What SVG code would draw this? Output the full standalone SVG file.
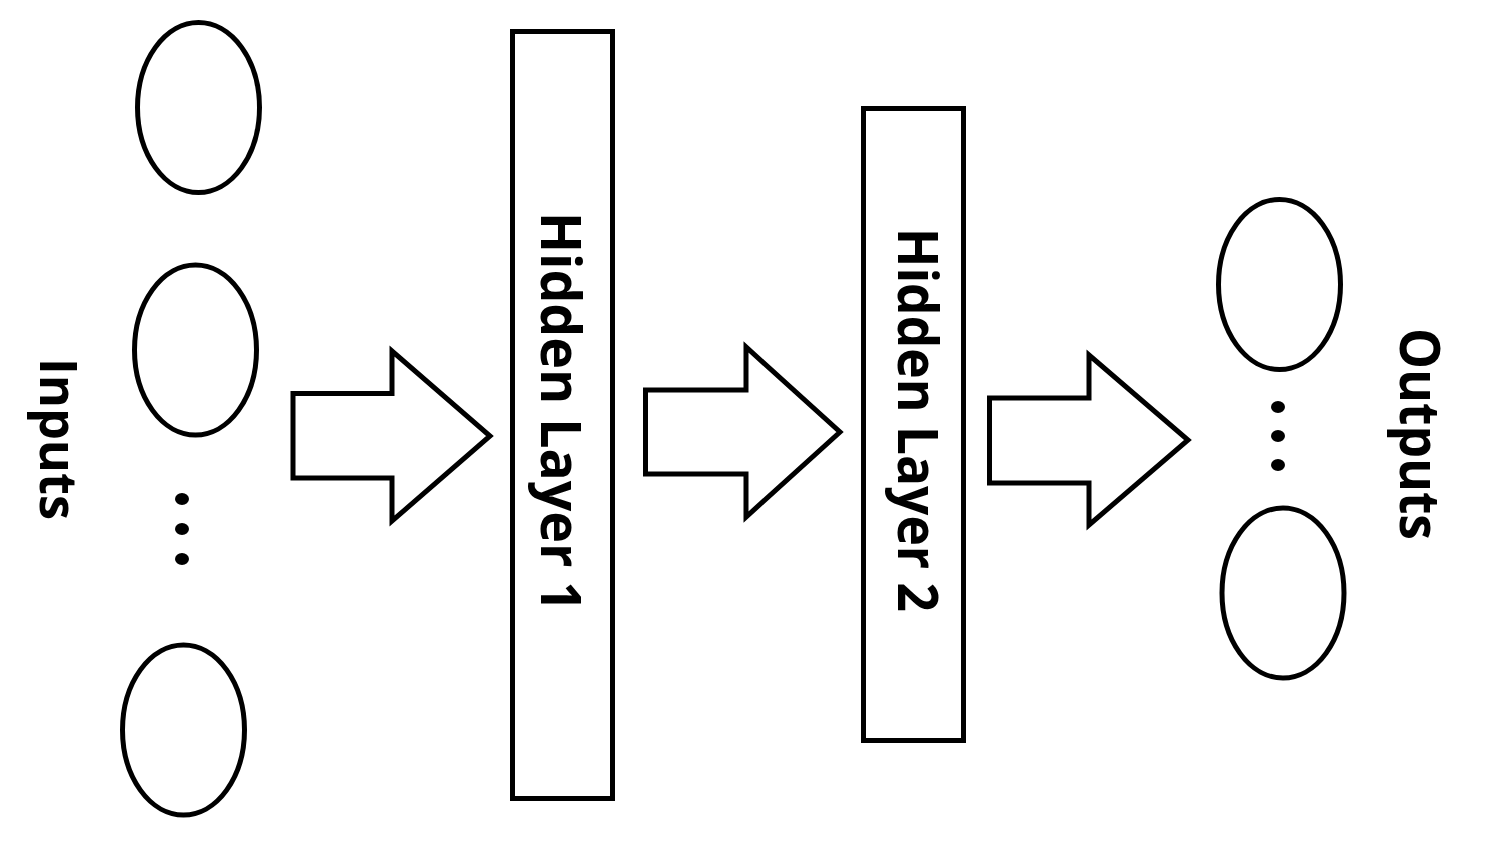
<svg xmlns="http://www.w3.org/2000/svg" width="1504" height="860" viewBox="0 0 1504 860">
  <style>
    .shape { fill: #ffffff; stroke: #000000; stroke-width: 5; stroke-linejoin: miter; }
    .dot { fill: #000000; }
    .label { font-family: "Open Sans", "Noto Sans", "Liberation Sans", sans-serif; font-weight: 700; fill: #000000; text-anchor: middle; }
  </style>
  <rect width="1504" height="860" fill="#ffffff"/>

  <!-- input neurons -->
  <g id="inputs">
    <ellipse class="shape" cx="198.5" cy="107.5" rx="61" ry="85"/>
    <ellipse class="shape" cx="195.5" cy="350" rx="61" ry="85"/>
    <ellipse class="dot" cx="182" cy="499" rx="7" ry="6"/>
    <ellipse class="dot" cx="182" cy="529" rx="7" ry="6"/>
    <ellipse class="dot" cx="182" cy="559" rx="7" ry="6"/>
    <ellipse class="shape" cx="183.5" cy="730" rx="61" ry="85"/>
    <text class="label" font-size="52" textLength="162" lengthAdjust="spacingAndGlyphs" transform="translate(40,439) rotate(90)">Inputs</text>
  </g>

  <!-- first hidden layer -->
  <g id="hidden1">
    <rect class="shape" x="512.5" y="31.5" width="100" height="767"/>
    <text class="label" font-size="56" textLength="400" lengthAdjust="spacingAndGlyphs" transform="translate(541,412) rotate(90)">Hidden Layer 1</text>
  </g>

  <!-- second hidden layer -->
  <g id="hidden2">
    <rect class="shape" x="863.5" y="108.5" width="100" height="632"/>
    <text class="label" font-size="56" textLength="384" lengthAdjust="spacingAndGlyphs" transform="translate(898,420) rotate(90)">Hidden Layer 2</text>
  </g>

  <!-- output neurons -->
  <g id="outputs">
    <ellipse class="shape" cx="1279.5" cy="284.5" rx="61" ry="85"/>
    <ellipse class="dot" cx="1278" cy="407" rx="7" ry="6"/>
    <ellipse class="dot" cx="1278" cy="436" rx="7" ry="6"/>
    <ellipse class="dot" cx="1278" cy="465" rx="7" ry="6"/>
    <ellipse class="shape" cx="1283" cy="593" rx="61" ry="85"/>
    <text class="label" font-size="56" textLength="212" lengthAdjust="spacingAndGlyphs" transform="translate(1400,434) rotate(90)">Outputs</text>
  </g>

  <!-- block arrows between layers -->
  <g id="connectors">
    <polygon class="shape" points="293,393.5 392,393.5 392,351 490,436 392,521 392,478 293,478"/>
    <polygon class="shape" points="645.5,390 746,390 746,347 840,432 746,517 746,474 645.5,474"/>
    <polygon class="shape" points="989.5,398 1089,398 1089,355 1188,440 1089,525 1089,483 989.5,483"/>
  </g>
</svg>
